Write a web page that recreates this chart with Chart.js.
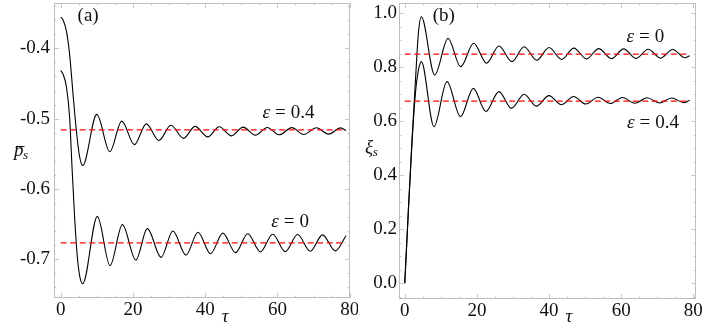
<!DOCTYPE html>
<html>
<head>
<meta charset="utf-8">
<script src="https://cdn.jsdelivr.net/npm/chart.js@4.4.0/dist/chart.umd.min.js"></script>
<style>
  html, body { margin: 0; padding: 0; background: #fff; }
  #wrap { position: relative; width: 717px; height: 327px; overflow: hidden; }
  canvas { position: absolute; top: 0; }
  #cA { left: 0; }
  #cB { left: 358px; }
</style>
</head>
<body>
<div id="wrap">
  <canvas id="cA" width="358" height="327"></canvas>
  <canvas id="cB" width="359" height="327"></canvas>
</div>
<script>
// tick labels
var xTicks = [0, 20, 40, 60, 80];
var yTicksA = [-0.7, -0.6, -0.5, -0.4];
var yTicksB = [0, 0.2, 0.4, 0.6, 0.8, 1.0];

// panel (a): p_s, eps = 0.4 (upper curve)
var tauP04 = [0, 0.7, 1.6, 2.5, 3.5, 4.4, 5.2, 6.1, 10.0, 13.6, 16.9, 20.4, 23.7, 27.2, 30.5, 34.0, 37.2, 40.7, 43.9, 47.3, 50.5, 53.9, 57.2, 60.5, 64.0, 67.3, 70.8, 74.2, 77.5, 79];
var p04 = [-0.3555, -0.36, -0.376, -0.41, -0.47, -0.52, -0.553, -0.5667, -0.494, -0.547, -0.5035, -0.537, -0.5075, -0.531, -0.5095, -0.528, -0.511, -0.526, -0.5115, -0.5245, -0.512, -0.5235, -0.5125, -0.523, -0.5128, -0.5225, -0.513, -0.522, -0.5132, -0.517];
// panel (a): p_s, eps = 0 (lower curve)
var tauP0 = [0, 0.7, 1.6, 2.5, 3.1, 3.8, 4.5, 5.2, 6.1, 10.15, 13.67, 17.08, 20.8, 24.0, 27.8, 31.05, 34.7, 38.0, 41.5, 44.9, 48.4, 51.8, 55.3, 58.7, 62.2, 65.6, 69.1, 72.5, 76.0, 79];
var p0 = [-0.4315, -0.4375, -0.455, -0.50, -0.565, -0.635, -0.69, -0.722, -0.7348, -0.639, -0.709, -0.6507, -0.701, -0.6563, -0.6972, -0.6597, -0.694, -0.6615, -0.692, -0.6628, -0.6905, -0.6637, -0.6895, -0.6643, -0.689, -0.6648, -0.6885, -0.6652, -0.688, -0.6665];
var pSteady = [-0.516, -0.6766];

// panel (b): xi_s, eps = 0 (upper curve)
var tauX0 = [0, 1, 2, 3, 3.8, 4.6, 8.3, 12.0, 15.5, 19.1, 22.7, 26.1, 29.7, 33.1, 36.6, 40.0, 43.5, 46.9, 50.4, 53.8, 57.3, 60.7, 64.1, 67.5, 70.9, 74.3, 77.7, 79];
var xi0 = [0, 0.27, 0.53, 0.76, 0.93, 0.987, 0.771, 0.907, 0.802, 0.889, 0.815, 0.879, 0.821, 0.876, 0.826, 0.873, 0.829, 0.871, 0.831, 0.869, 0.832, 0.868, 0.833, 0.867, 0.834, 0.866, 0.835, 0.843];
// panel (b): xi_s, eps = 0.4 (lower curve)
var tauX04 = [0, 1, 2, 3, 3.8, 4.6, 8.1, 11.7, 15.45, 19.0, 22.5, 26.1, 29.6, 33.1, 36.5, 40.0, 43.4, 46.8, 50.2, 53.6, 57.0, 60.4, 63.8, 67.2, 70.6, 74.0, 77.4, 79];
var xi04 = [0, 0.27, 0.52, 0.71, 0.79, 0.821, 0.58, 0.747, 0.617, 0.722, 0.636, 0.710, 0.648, 0.70, 0.656, 0.695, 0.661, 0.692, 0.664, 0.689, 0.666, 0.688, 0.667, 0.687, 0.668, 0.686, 0.669, 0.678];
var xiSteady = [0.849, 0.675];

var serif = '"Liberation Serif", "Times New Roman", serif';

function pts(t, v) {
  return t.map(function(x, i) { return { x: x, y: v[i] }; });
}

function dashed(v) {
  return {
    data: [{ x: 0, y: v }, { x: 79, y: v }],
    borderColor: 'rgb(250,10,10)', borderWidth: 1.3, borderDash: [6, 3.5], tension: 0
  };
}

function curve(t, v) {
  return {
    data: pts(t, v),
    borderColor: '#000', borderWidth: 1.1, cubicInterpolationMode: 'monotone'
  };
}

function drawEps(ctx, cx, cy, val) {
  var gap = 5;
  ctx.font = 'italic 19px ' + serif;
  var wE = ctx.measureText('\u03b5').width;
  ctx.font = '19px ' + serif;
  var wQ = ctx.measureText('=').width;
  var wV = ctx.measureText(val).width;
  var x0 = cx - (wE + gap + wQ + gap + wV) / 2;
  ctx.textAlign = 'left';
  ctx.textBaseline = 'alphabetic';
  ctx.font = 'italic 19px ' + serif;
  ctx.fillText('\u03b5', x0, cy + 6);
  ctx.font = '19px ' + serif;
  ctx.fillText('=', x0 + wE + gap, cy + 6);
  ctx.fillText(val, x0 + wE + gap + wQ + gap, cy + 6);
}

var deco = {
  id: 'deco',
  afterDraw: function(chart, args, o) {
    var ctx = chart.ctx, a = chart.chartArea, xs = chart.scales.x, ys = chart.scales.y;
    ctx.save();
    // frame ticks, inward on all four sides
    ctx.strokeStyle = '#c8c8c8';
    ctx.lineWidth = 1;
    function seg(x1, y1, x2, y2) { ctx.beginPath(); ctx.moveTo(x1, y1); ctx.lineTo(x2, y2); ctx.stroke(); }
    var k, v, p, len;
    for (k = Math.ceil(xs.min / 5); k * 5 <= xs.max; k++) {
      v = k * 5;
      p = Math.round(xs.getPixelForValue(v)) + 0.5;
      len = v % 20 === 0 ? 5 : 2.5;
      seg(p, a.bottom, p, a.bottom - len);
      seg(p, a.top, p, a.top + len);
    }
    for (k = Math.ceil(ys.min / o.yMinor - 1e-6); k * o.yMinor <= ys.max + 1e-9; k++) {
      v = k * o.yMinor;
      p = Math.round(ys.getPixelForValue(v)) + 0.5;
      var r = v / o.yMajor;
      len = Math.abs(r - Math.round(r)) < 1e-6 ? 5 : 2.5;
      seg(a.left, p, a.left + len, p);
      seg(a.right, p, a.right - len, p);
    }
    ctx.strokeStyle = '#bdbdbd';
    ctx.strokeRect(Math.round(a.left) + 0.5, Math.round(a.top) + 0.5,
      Math.round(a.right - a.left) - 1, Math.round(a.bottom - a.top) - 1);

    ctx.fillStyle = '#111';
    // panel letter
    ctx.font = '19px ' + serif;
    ctx.textAlign = 'center';
    ctx.textBaseline = 'middle';
    ctx.fillText(o.panel, xs.getPixelForValue(o.panelAt[0]), ys.getPixelForValue(o.panelAt[1]));
    // epsilon labels
    o.eps.forEach(function(e) {
      drawEps(ctx, xs.getPixelForValue(e.at[0]), ys.getPixelForValue(e.at[1]), e.val);
    });
    // x axis variable
    ctx.font = 'italic 19px ' + serif;
    ctx.textAlign = 'center';
    ctx.textBaseline = 'alphabetic';
    ctx.fillText('\u03c4', xs.getPixelForValue(45.5), a.bottom + o.tauDy);
    // y axis variable with subscript s
    var vx = a.left - o.varDx, vy = a.top + o.varDy;
    ctx.textAlign = 'left';
    ctx.font = 'italic 19px ' + serif;
    ctx.fillText(o.yVar, vx, vy);
    var w = ctx.measureText(o.yVar).width;
    if (o.bar) {
      ctx.strokeStyle = '#111';
      ctx.lineWidth = 1;
      seg(vx + 2, vy - 9.5, vx + w + 1, vy - 9.5);
    }
    ctx.font = 'italic 13px ' + serif;
    ctx.fillText('s', vx + w - 0.5, vy + 3);
    ctx.restore();
  }
};

function makePanel(id, o) {
  return new Chart(document.getElementById(id), {
    type: 'line',
    data: {
      datasets: [dashed(o.steady[0]), dashed(o.steady[1]), curve(o.tau1, o.v1), curve(o.tau2, o.v2)]
    },
    options: {
      responsive: false,
      animation: false,
      devicePixelRatio: 1,
      layout: { padding: { top: 3, right: o.padRight, left: 0, bottom: 0 } },
      elements: { point: { radius: 0 } },
      plugins: { legend: { display: false }, tooltip: { enabled: false }, deco: o.deco },
      scales: {
        x: {
          type: 'linear', min: o.xMin, max: o.xMax,
          grid: { display: false, drawTicks: false },
          border: { display: false },
          afterBuildTicks: function(s) { s.ticks = xTicks.map(function(v) { return { value: v }; }); },
          ticks: {
            font: { family: serif, size: 19 }, color: '#111', padding: 1,
            maxRotation: 0, autoSkip: false,
            callback: function(v) { return String(v); }
          },
          afterFit: function(s) { s.height = o.xAxisH; s.paddingLeft = 0; s.paddingRight = 0; }
        },
        y: {
          type: 'linear', min: o.yMin, max: o.yMax,
          grid: { display: false, drawTicks: false },
          border: { display: false },
          afterBuildTicks: function(s) { s.ticks = o.yTicks.map(function(v) { return { value: v }; }); },
          ticks: {
            font: { family: serif, size: 19 }, color: '#111', padding: o.yPad,
            autoSkip: false,
            callback: function(v) { return v.toFixed(1); }
          },
          afterFit: function(s) { s.width = o.yAxisW; s.paddingTop = 0; s.paddingBottom = 0; }
        }
      }
    },
    plugins: [deco]
  });
}

makePanel('cA', {
  tau1: tauP04, v1: p04, tau2: tauP0, v2: p0, steady: pSteady,
  xMin: -1.85, xMax: 80.1, yMin: -0.755, yMax: -0.3356, yTicks: yTicksA,
  padRight: 8, xAxisH: 29, yAxisW: 54, yPad: 4,
  deco: {
    yMinor: 0.02, yMajor: 0.1,
    panel: '(a)', panelAt: [7.6, -0.3545],
    eps: [{ val: '0.4', at: [63.1, -0.4904] }, { val: '0', at: [63.5, -0.645] }],
    yVar: 'p', bar: true, varDx: 40, varDy: 153, tauDy: 24
  }
});

makePanel('cB', {
  tau1: tauX0, v1: xi0, tau2: tauX04, v2: xi04, steady: xiSteady,
  xMin: -1.6, xMax: 80.75, yMin: -0.058, yMax: 1.038, yTicks: yTicksB,
  padRight: 21, xAxisH: 28, yAxisW: 41, yPad: 2,
  deco: {
    yMinor: 0.05, yMajor: 0.2,
    panel: '(b)', panelAt: [10.8, 0.99],
    eps: [{ val: '0', at: [66.7, 0.916] }, { val: '0.4', at: [68.8, 0.599] }],
    yVar: '\u03be', bar: false, varDx: 34, varDy: 150, tauDy: 23
  }
});
</script>
</body>
</html>
